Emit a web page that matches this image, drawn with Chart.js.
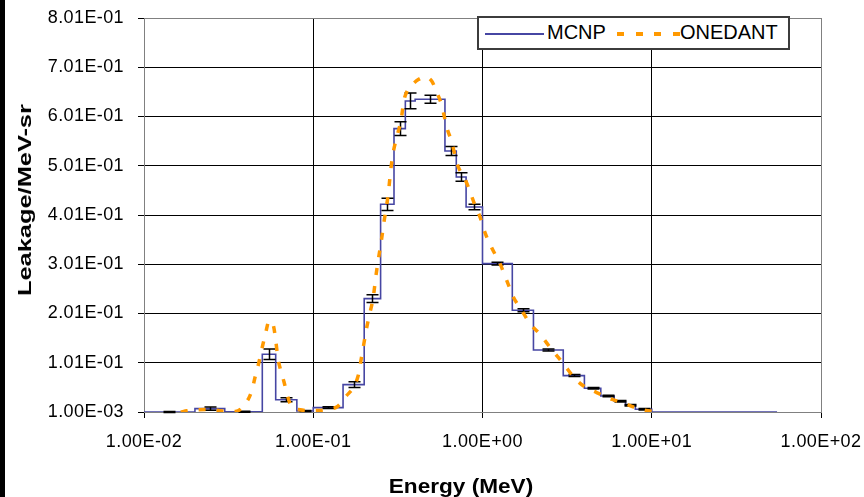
<!DOCTYPE html>
<html>
<head>
<meta charset="utf-8">
<script src="https://cdn.jsdelivr.net/npm/chart.js@4.4.1/dist/chart.umd.min.js"></script>
<style>
  body { margin: 0; background: #fff; }
  #wrap { position: relative; width: 864px; height: 497px; font-family: 'Liberation Sans', Arial, sans-serif; color: #000; }
  #chart { position: absolute; left: 0; top: 0; }
  #edge { position: absolute; left: 0; top: 0; width: 5px; height: 497px; background: #000; }
  .legend { position: absolute; left: 477px; top: 16px; width: 309px; height: 30px; border: 2px solid #3c3c3c; background: #fff; }
  .legend .mcnp-line { position: absolute; left: 6px; top: 15px; width: 59px; height: 2px; background: #4646a3; }
  .legend .onedant-line { position: absolute; left: 138px; top: 14px; width: 63px; height: 4px;
    background: repeating-linear-gradient(to right, #ff9900 0 7px, transparent 7px 18.7px); }
  .legend span { position: absolute; top: 4px; font-size: 20px; line-height: 20px; white-space: nowrap; }
  .ytitle { position: absolute; left: 25px; top: 200px; font-weight: bold; font-size: 18px; line-height: 18px; white-space: nowrap;
    transform: translate(-50%, -50%) rotate(-90deg) scaleX(1.41); }
  .xtitle { position: absolute; left: 461px; top: 486px; font-weight: bold; font-size: 20px; line-height: 20px; white-space: nowrap;
    transform: translate(-50%, -50%) scaleX(1.13); }
</style>
</head>
<body>
<div id="wrap">
  <canvas id="chart" width="864" height="497"></canvas>
  <div id="edge"></div>
  <div class="legend">
    <div class="mcnp-line"></div><span style="left:68px">MCNP</span>
    <div class="onedant-line"></div><span style="left:201px">ONEDANT</span>
  </div>
  <div class="ytitle">Leakage/MeV-sr</div>
  <div class="xtitle">Energy (MeV)</div>
</div>
<script>
// MCNP histogram: bin edges, value of each bin, and its error
const mcnpEdges = [0.01, 0.02, 0.03, 0.05, 0.06, 0.08, 0.1, 0.15, 0.2, 0.25, 0.3, 0.35, 0.4,
  0.6, 0.7, 0.8, 1, 1.5, 2, 3, 4, 5, 6, 7, 8, 10, 55];
const mcnpValues = [0.001, 0.0079, 0.0015, 0.1182, 0.0258, 0.003, 0.0099, 0.0566, 0.2313, 0.4227,
  0.5764, 0.6325, 0.636, 0.531, 0.4782, 0.4172, 0.3023, 0.2075, 0.1269, 0.0749, 0.0491, 0.0335,
  0.0227, 0.0146, 0.0065, 0.001];
const mcnpErrors = [0.001, 0.0035, 0.001, 0.0105, 0.004, 0.001, 0.002, 0.006, 0.008, 0.0125,
  0.014, 0.016, 0.008, 0.009, 0.0085, 0.0055, 0.003, 0.003, 0.002, 0.002, 0.0015, 0.0015,
  0.0015, 0.0015, 0.0015];

// ONEDANT curve
const oneE = [0.0165, 0.0179, 0.02, 0.0246, 0.0288, 0.0345, 0.0386, 0.0433, 0.0453, 0.0478, 0.05,
  0.0524, 0.0548, 0.0581, 0.06, 0.0617, 0.0642, 0.0672, 0.0703, 0.0746, 0.0816, 0.0915, 0.1048,
  0.1256, 0.1376, 0.154, 0.1846, 0.1907, 0.1976, 0.205, 0.2144, 0.2264, 0.2339, 0.2403, 0.2538,
  0.2618, 0.2776, 0.2868, 0.2972, 0.3138, 0.33, 0.3437, 0.3566, 0.3817, 0.4176, 0.4574, 0.501,
  0.5364, 0.5741, 0.6145, 0.6577, 0.6879, 0.7194, 0.7775, 0.8244, 0.9031, 0.9666, 1.0346, 1.1335,
  1.269, 1.39, 1.521, 1.704, 1.908, 2.187, 2.564, 3.002, 3.521, 4.033, 4.728, 5.666, 7.112, 8.523, 9.993];
const oneV = [0.001, 0.0034, 0.0055, 0.0059, 0.003, 0.002, 0.0126, 0.0436, 0.0715, 0.1025, 0.133,
  0.162, 0.186, 0.177, 0.147, 0.112, 0.0857, 0.062, 0.035, 0.011, 0.0059, 0.0038, 0.0038,
  0.0075, 0.0112, 0.0302, 0.0755, 0.1025, 0.133, 0.165, 0.197, 0.2345, 0.274, 0.302, 0.354,
  0.387, 0.4445, 0.4918, 0.529, 0.563, 0.5933, 0.634, 0.6507, 0.6643, 0.676, 0.6812, 0.673,
  0.6507, 0.6237, 0.5797, 0.5492, 0.5222, 0.4985, 0.4782, 0.458, 0.4207, 0.397, 0.365, 0.3344,
  0.3023, 0.2684, 0.2345, 0.2075, 0.1805, 0.1588, 0.1277, 0.0993, 0.0688, 0.0518, 0.0404, 0.0282,
  0.0166, 0.0065, 0.0024];

const xTicks = [0.01, 0.1, 1, 10, 100];
const yTicks = [0.001, 0.101, 0.201, 0.301, 0.401, 0.501, 0.601, 0.701, 0.801];

function sci(v) {
  return v.toExponential(2).toUpperCase().replace(/E([+-])(\d)$/, 'E$10$2');
}

const FONT = "'Liberation Sans', Arial, sans-serif";

const spacing = {
  id: 'spacing',
  beforeDraw(chart) { chart.ctx.letterSpacing = '0.4px'; }
};

const errorBars = {
  id: 'errorBars',
  afterDatasetDraw(chart, args) {
    if (args.index !== 1) return;
    const ctx = chart.ctx, x = chart.scales.x, y = chart.scales.y;
    ctx.save();
    ctx.strokeStyle = '#000';
    ctx.lineWidth = 1.5;
    mcnpErrors.forEach(function (err, i) {
      const e = Math.sqrt(mcnpEdges[i] * mcnpEdges[i + 1]);
      const px = Math.round(x.getPixelForValue(e)) + 0.5;
      const top = y.getPixelForValue(mcnpValues[i] + err);
      const bot = y.getPixelForValue(mcnpValues[i] - err);
      ctx.beginPath();
      ctx.moveTo(px, top); ctx.lineTo(px, bot);
      ctx.moveTo(px - 6, top); ctx.lineTo(px + 6, top);
      ctx.moveTo(px - 6, bot); ctx.lineTo(px + 6, bot);
      ctx.stroke();
    });
    ctx.restore();
  }
};

function edgeColor(n) {
  return function (c) { return (c.index === 0 || c.index === n - 1) ? '#808080' : '#000'; };
}

new Chart(document.getElementById('chart'), {
  type: 'line',
  data: {
    datasets: [
      {
        label: 'ONEDANT',
        data: oneE.map(function (e, i) { return { x: e, y: oneV[i] }; }),
        borderColor: '#ff9900',
        borderWidth: 3.5,
        borderDash: [7, 11],
        pointRadius: 0,
        cubicInterpolationMode: 'monotone',
        fill: false
      },
      {
        label: 'MCNP',
        data: mcnpEdges.map(function (e, i) {
          return { x: e, y: i < mcnpValues.length ? mcnpValues[i] : mcnpValues[mcnpValues.length - 1] };
        }),
        borderColor: '#4646a3',
        borderWidth: 1.6,
        stepped: 'before',
        pointRadius: 0,
        fill: false
      }
    ]
  },
  options: {
    responsive: false,
    animation: false,
    devicePixelRatio: 1,
    layout: { padding: { top: 18, right: 43, bottom: 0, left: 0 } },
    plugins: { legend: { display: false }, tooltip: { enabled: false } },
    scales: {
      x: {
        type: 'logarithmic',
        min: 0.01,
        max: 100,
        afterBuildTicks: function (s) { s.ticks = xTicks.map(function (v) { return { value: v }; }); },
        afterFit: function (s) { s.height = 85; s.paddingLeft = 0; s.paddingRight = 0; },
        ticks: {
          callback: function (v) { return sci(v); },
          autoSkip: false, maxRotation: 0, padding: 13, color: '#000',
          font: { family: FONT, size: 18 }
        },
        grid: { color: edgeColor(xTicks.length), lineWidth: 1, tickLength: 6, tickColor: '#000' },
        border: { color: '#808080', width: 1 }
      },
      y: {
        type: 'linear',
        min: 0.001,
        max: 0.801,
        afterBuildTicks: function (s) { s.ticks = yTicks.map(function (v) { return { value: v }; }); },
        afterFit: function (s) { s.width = 144; s.paddingTop = 0; s.paddingBottom = 0; },
        ticks: {
          callback: function (v) { return sci(v); },
          padding: 14, color: '#000',
          font: { family: FONT, size: 18 }
        },
        grid: { color: edgeColor(yTicks.length), lineWidth: 1, tickLength: 6, tickColor: '#000' },
        border: { color: '#808080', width: 1 }
      }
    }
  },
  plugins: [spacing, errorBars]
});
</script>
</body>
</html>
